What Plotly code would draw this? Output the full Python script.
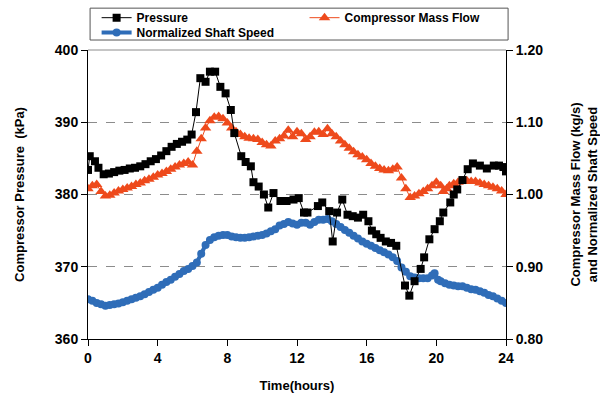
import plotly.graph_objects as go

# Pressure (kPa)
p_hours = [0.0, 0.1, 0.4, 0.6, 0.9, 1.2, 1.5, 1.8, 2.1, 2.4, 2.7, 3.0, 3.3, 3.6, 3.9, 4.2, 4.5, 4.8,
           5.1, 5.4, 5.7, 5.95, 6.2, 6.45, 6.75, 7.0, 7.3, 7.6, 7.9, 8.2, 8.4, 8.8, 9.05, 9.35, 9.5,
           9.8, 10.1, 10.35, 10.65, 11.05, 11.4, 11.8, 12.1, 12.4, 12.6, 13.2, 13.45, 13.85, 14.05,
           14.3, 14.6, 14.9, 15.2, 15.5, 15.8, 16.1, 16.3, 16.55, 16.8, 17.1, 17.4, 17.7, 18.2,
           18.45, 18.75, 19.1, 19.3, 19.6, 19.9, 20.2, 20.4, 20.8, 21.0, 21.2, 21.5, 21.8, 22.1,
           22.5, 22.9, 23.3, 23.6, 23.85, 24.0]
pressure = [383.4, 385.3, 384.6, 383.7, 382.8, 382.9, 383.1, 383.3, 383.4, 383.6, 383.7, 383.9,
            384.2, 384.6, 384.9, 385.4, 386.0, 386.6, 387.0, 387.3, 387.6, 388.3, 391.4, 396.1,
            395.6, 397.0, 397.0, 394.9, 394.0, 391.7, 388.5, 385.3, 384.5, 383.9, 381.7, 381.1,
            380.0, 378.2, 380.2, 379.1, 379.1, 379.3, 379.5, 377.5, 377.5, 378.4, 378.9, 377.7,
            373.5, 377.5, 379.3, 377.2, 377.0, 376.8, 377.2, 376.3, 375.0, 374.5, 374.0, 373.5,
            373.3, 372.9, 367.4, 366.0, 368.0, 369.7, 371.3, 373.8, 375.2, 376.3, 377.5, 378.9,
            380.0, 380.7, 382.0, 383.5, 384.3, 384.0, 383.6, 384.0, 384.0, 383.8, 383.2]

# Compressor mass flow (kg/s)
f_hours = [0.0, 0.25, 0.5, 0.75, 1.0, 1.25, 1.5, 1.75, 2.0, 2.25, 2.5, 2.75, 3.0, 3.25, 3.5, 3.75,
           4.0, 4.25, 4.5, 4.75, 5.0, 5.25, 5.5, 5.75, 6.0, 6.25, 6.5, 6.75, 7.0, 7.25, 7.5, 7.75,
           8.0, 8.25, 8.5, 8.75, 9.0, 9.25, 9.5, 9.75, 10.0, 10.25, 10.5, 10.75, 11.0, 11.25, 11.5,
           11.75, 12.0, 12.25, 12.5, 12.75, 13.0, 13.25, 13.5, 13.75, 14.0, 14.25, 14.5, 14.75,
           15.0, 15.25, 15.5, 15.75, 16.0, 16.25, 16.5, 16.75, 17.0, 17.25, 17.5, 17.75, 18.0,
           18.25, 18.5, 18.75, 19.0, 19.25, 19.5, 19.75, 20.0, 20.25, 20.4, 20.6, 20.75, 21.0,
           21.25, 21.5, 21.75, 22.0, 22.25, 22.5, 22.75, 23.0, 23.25, 23.5, 23.75, 24.0]
mass_flow = [1.008, 1.012, 1.014, 1.004, 0.998, 0.999, 1.002, 1.005, 1.007, 1.009, 1.011, 1.014,
             1.016, 1.019, 1.021, 1.024, 1.027, 1.029, 1.032, 1.035, 1.038, 1.041, 1.043, 1.045,
             1.041, 1.060, 1.077, 1.092, 1.102, 1.107, 1.108, 1.105, 1.099, 1.092, 1.087, 1.083,
             1.080, 1.078, 1.077, 1.076, 1.072, 1.069, 1.067, 1.074, 1.077, 1.081, 1.089, 1.080,
             1.087, 1.084, 1.076, 1.080, 1.086, 1.087, 1.083, 1.091, 1.084, 1.080, 1.074, 1.069,
             1.064, 1.059, 1.055, 1.052, 1.048, 1.043, 1.039, 1.036, 1.034, 1.033, 1.035, 1.038,
             1.023, 1.008, 0.996, 0.998, 1.001, 1.004, 1.008, 1.012, 1.017, 1.012, 1.004, 1.008,
             1.012, 1.015, 1.017, 1.018, 1.019, 1.018, 1.018, 1.016, 1.014, 1.012, 1.010, 1.008,
             1.005, 1.000]

# Normalized shaft speed
s_hours = [0.0, 0.25, 0.5, 0.75, 1.0, 1.25, 1.5, 1.75, 2.0, 2.25, 2.5, 2.75, 3.0, 3.25, 3.5, 3.75,
           4.0, 4.25, 4.5, 4.75, 5.0, 5.25, 5.5, 5.75, 6.0, 6.25, 6.5, 6.75, 7.0, 7.25, 7.5, 7.75,
           8.0, 8.25, 8.5, 8.75, 9.0, 9.25, 9.5, 9.75, 10.0, 10.25, 10.5, 10.75, 11.0, 11.25, 11.5,
           11.75, 12.0, 12.25, 12.5, 12.75, 13.0, 13.25, 13.5, 13.75, 14.0, 14.25, 14.5, 14.75,
           15.0, 15.25, 15.5, 15.75, 16.0, 16.25, 16.5, 16.75, 17.0, 17.25, 17.5, 17.75, 18.0,
           18.25, 18.5, 18.75, 19.0, 19.25, 19.5, 19.75, 19.9, 20.1, 20.25, 20.5, 20.75, 21.0,
           21.25, 21.5, 21.75, 22.0, 22.25, 22.5, 22.75, 23.0, 23.25, 23.5, 23.75, 24.0]
shaft_speed = [0.855, 0.853, 0.850, 0.848, 0.846, 0.847, 0.848, 0.849, 0.851, 0.853, 0.855, 0.857,
               0.859, 0.862, 0.865, 0.868, 0.871, 0.875, 0.879, 0.882, 0.886, 0.890, 0.894, 0.897,
               0.901, 0.906, 0.918, 0.930, 0.937, 0.941, 0.943, 0.944, 0.944, 0.942, 0.941, 0.940,
               0.940, 0.941, 0.942, 0.943, 0.944, 0.946, 0.949, 0.952, 0.957, 0.959, 0.962, 0.960,
               0.958, 0.961, 0.961, 0.958, 0.962, 0.965, 0.965, 0.966, 0.963, 0.959, 0.955, 0.951,
               0.947, 0.943, 0.939, 0.935, 0.932, 0.929, 0.926, 0.923, 0.920, 0.917, 0.913, 0.908,
               0.899, 0.893, 0.887, 0.885, 0.884, 0.884, 0.884, 0.888, 0.891, 0.882, 0.880, 0.877,
               0.875, 0.874, 0.873, 0.873, 0.871, 0.869, 0.868, 0.866, 0.864, 0.861, 0.859, 0.856,
               0.853, 0.850]

x_ticks = [0, 4, 8, 12, 16, 20, 24]

FONT = "Liberation Sans, Arial, sans-serif"
BLACK = "#000000"
ORANGE = "#EE4A1C"
BLUE = "#2F6DB8"

fig = go.Figure()

fig.add_trace(go.Scatter(
    x=s_hours, y=shaft_speed, name="Normalized Shaft Speed", yaxis="y",
    mode="lines+markers", line=dict(color=BLUE, width=4),
    marker=dict(symbol="circle", size=8, color=BLUE), legend="legend2"))

fig.add_trace(go.Scatter(
    x=f_hours, y=mass_flow, name="Compressor Mass Flow", yaxis="y",
    mode="lines+markers", line=dict(color=ORANGE, width=1),
    marker=dict(symbol="triangle-up", size=10, color=ORANGE), legend="legend3"))

fig.add_trace(go.Scatter(
    x=p_hours, y=pressure, name="Pressure", yaxis="y2",
    mode="lines+markers", line=dict(color=BLACK, width=1),
    marker=dict(symbol="square", size=8, color=BLACK), legend="legend"))

tickfont = dict(family=FONT, size=14, color=BLACK, weight="bold")
titlefont = dict(family=FONT, size=13, color=BLACK, weight="bold")
legfont = dict(family=FONT, size=12, color=BLACK, weight="bold")


def leg(x, y):
    return dict(orientation="h", x=x, xanchor="left", y=y, yanchor="top",
                bgcolor="rgba(0,0,0,0)", borderwidth=0,
                font=legfont, itemwidth=30, tracegroupgap=0)


fig.update_layout(
    width=600, height=403,
    margin=dict(l=88, r=94, t=50, b=64, autoexpand=False),
    paper_bgcolor="white", plot_bgcolor="white",
    font=dict(family=FONT, color=BLACK),
    showlegend=True,
    legend=leg(0.0206, 1.162),
    legend3=leg(0.518, 1.162),
    legend2=leg(0.0206, 1.111),
    xaxis=dict(
        range=[0, 24], tickvals=x_ticks, ticktext=[str(v) for v in x_ticks],
        showgrid=False, zeroline=False, showline=True, linecolor=BLACK, linewidth=1,
        ticks="outside", ticklen=6, tickcolor=BLACK, tickfont=tickfont,
        title=dict(text="Time(hours)", font=titlefont, standoff=16),
    ),
    yaxis=dict(
        range=[0.8, 1.2], dtick=0.1, tickformat=".2f", side="right",
        showgrid=True, gridcolor="#8c8c8c", griddash="dash", gridwidth=1,
        zeroline=False, showline=True, linecolor=BLACK, linewidth=1,
        ticks="outside", ticklen=6, tickcolor=BLACK, tickfont=tickfont,
        title=dict(text="Compressor Mass Flow (kg/s)<br>and Normalized Shaft Speed",
                   font=titlefont, standoff=28),
    ),
    yaxis2=dict(
        range=[360, 400], dtick=10, overlaying="y", side="left",
        showgrid=False, zeroline=False, showline=True, linecolor=BLACK, linewidth=1,
        ticks="outside", ticklen=6, tickcolor=BLACK, tickfont=tickfont,
        title=dict(text="Compressor Pressure  (kPa)", font=titlefont, standoff=27),
    ),
    shapes=[
        dict(type="line", xref="paper", yref="paper", x0=0, x1=1, y0=1, y1=1,
             line=dict(color="#8c8c8c", width=1)),
        dict(type="rect", xref="paper", yref="paper", x0=0.005, x1=1.005,
             y0=1.0345, y1=1.1448, line=dict(color="#555555", width=1),
             fillcolor="rgba(0,0,0,0)", layer="above"),
    ],
)

fig.write_html(
    "out.html",
    config={"displayModeBar": False},
    post_script="document.body.style.margin='0';document.body.style.padding='0';",
)
